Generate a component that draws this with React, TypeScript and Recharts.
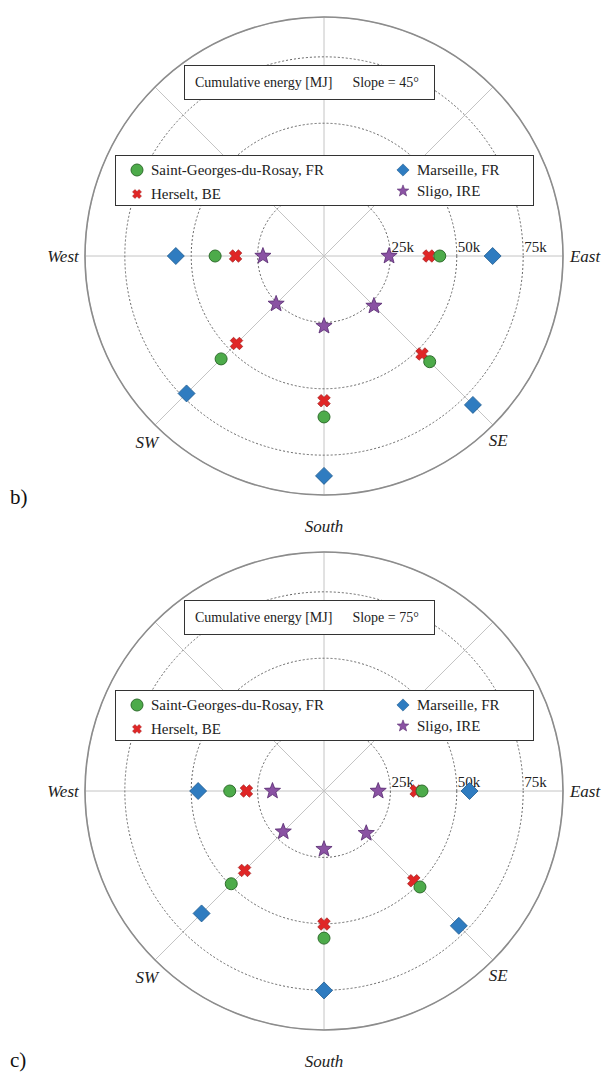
import { RadarChart, Radar, PolarGrid, PolarAngleAxis, PolarRadiusAxis } from 'recharts';

// compass sectors, clockwise from the top of the chart
const directions = ['North', 'NE', 'East', 'SE', 'South', 'SW', 'West', 'NW'];
const directionLabels = ['', '', 'East', 'SE', 'South', 'SW', 'West', ''];
const radiusTicks = [25000, 50000, 75000];
const radiusMax = 90000;

// cumulative energy [MJ] per orientation, slope = 45°
const stGeorges45 = [null, null, 43600, 56300, 60600, 54800, 41000, null];
const herselt45 = [null, null, 39500, 52200, 54500, 46600, 33300, null];
const marseille45 = [null, null, 63500, 79300, 82800, 73200, 55800, null];
const sligo45 = [null, null, 24500, 26600, 26400, 25500, 23000, null];

// cumulative energy [MJ] per orientation, slope = 75°
const stGeorges75 = [null, null, 36900, 51100, 55400, 49400, 35500, null];
const herselt75 = [null, null, 34700, 47800, 50100, 42300, 29200, null];
const marseille75 = [null, null, 54800, 71800, 75100, 65200, 47400, null];
const sligo75 = [null, null, 20400, 22500, 21900, 21700, 19400, null];

const SERIF = "'Liberation Serif', 'DejaVu Serif', serif";
const W = 604;
const CX = 324;
const CY = 256;
const R = 239;

const STYLE = {
  circle: { fill: '#4dab4a', stroke: '#2f6e2d' },
  x: { fill: '#e02626', stroke: '#9c1a1a' },
  diamond: { fill: '#2f7cc0', stroke: '#1e5a8e' },
  star: { fill: '#8a52a3', stroke: '#55286e' },
};

const series = [
  { key: 'marseille', name: 'Marseille, FR', shape: 'diamond' },
  { key: 'herselt', name: 'Herselt, BE', shape: 'x' },
  { key: 'stGeorges', name: 'Saint-Georges-du-Rosay, FR', shape: 'circle' },
  { key: 'sligo', name: 'Sligo, IRE', shape: 'star' },
];

function buildRows(sg: any[], he: any[], ma: any[], sl: any[]) {
  return directions.map((dir, i) => ({ dir, stGeorges: sg[i], herselt: he[i], marseille: ma[i], sligo: sl[i] }));
}

const starPoints = (() => {
  const pts: string[] = [];
  for (let i = 0; i < 10; i++) {
    const r = i % 2 === 0 ? 8.5 : 3.6;
    const a = -Math.PI / 2 + (i * Math.PI) / 5;
    pts.push(`${(r * Math.cos(a)).toFixed(2)},${(r * Math.sin(a)).toFixed(2)}`);
  }
  return pts.join(' ');
})();

const crossPath = (() => {
  const w = 2.4, s = 6.5;
  const p = [[-w, -s], [w, -s], [w, -w], [s, -w], [s, w], [w, w], [w, s], [-w, s], [-w, w], [-s, w], [-s, -w], [-w, -w]];
  return 'M' + p.map(([a, b]) => `${a},${b}`).join('L') + 'Z';
})();

function Marker({ shape, x, y, k = 1 }: { shape: string; x: number; y: number; k?: number }) {
  const st = (STYLE as any)[shape];
  const t = `translate(${x},${y}) scale(${k})`;
  if (shape === 'circle') return <circle cx={x} cy={y} r={6 * k} fill={st.fill} stroke={st.stroke} strokeWidth={1} />;
  if (shape === 'x')
    return <path d={crossPath} transform={`${t} rotate(45)`} fill={st.fill} stroke={st.stroke} strokeWidth={0.6} />;
  if (shape === 'diamond')
    return <path d="M0,-8.5L8.5,0L0,8.5L-8.5,0Z" transform={t} fill={st.fill} stroke={st.stroke} strokeWidth={0.8} />;
  return <polygon points={starPoints} transform={t} fill={st.fill} stroke={st.stroke} strokeWidth={0.8} />;
}

const makeDot = (shape: string) => (props: any) => {
  const { cx, cy, index } = props;
  const v = props.value ?? props.payload?.value;
  if (v == null || !Number.isFinite(cx) || !Number.isFinite(cy)) return <g key={`e-${index}`} />;
  return (
    <g key={`d-${shape}-${index}`}>
      <Marker shape={shape} x={cx} y={cy} />
    </g>
  );
};

// small nudges so the compass labels sit like in the figure
const labelNudge: Record<string, [number, number]> = {
  East: [2, 0],
  SE: [-9, 1],
  South: [0, 11],
  SW: [6, 3],
  West: [-2, 0],
};

const AngleTick = (props: any) => {
  const { x, y, payload } = props;
  const label = directionLabels[directions.indexOf(payload.value)];
  if (!label) return <g />;
  const [dx, dy] = labelNudge[label] || [0, 0];
  return (
    <text x={x + dx} y={y + dy} textAnchor="middle" dominantBaseline="central" fontFamily={SERIF} fontStyle="italic" fontSize={17} fill="#222">
      {label}
    </text>
  );
};

const RadiusTick = (props: any) => {
  const { x, y, payload } = props;
  return (
    <text x={x + 1} y={y - 9} textAnchor="start" dominantBaseline="central" fontFamily={SERIF} fontSize={15} fill="#222">
      {`${payload.value / 1000}k`}
    </text>
  );
};

function Legend() {
  const items = [
    { s: series[2], x: 21, y: 14 },
    { s: series[1], x: 21, y: 38 },
    { s: series[0], x: 287, y: 14 },
    { s: series[3], x: 287, y: 35 },
  ];
  return (
    <div
      style={{
        position: 'absolute', left: CX - 209, top: CY - 101, width: 419, height: 51, boxSizing: 'border-box',
        border: '1.5px solid #333', background: '#fff', fontFamily: SERIF, fontSize: 15, color: '#222',
      }}
    >
      {items.map(({ s, x, y }) => (
        <div key={s.key} style={{ position: 'absolute', left: x - 9, top: y - 10, height: 20, display: 'flex', alignItems: 'center', whiteSpace: 'nowrap' }}>
          <svg width={18} height={20} style={{ marginRight: 5 }}>
            <Marker shape={s.shape} x={9} y={10} k={s.shape === 'circle' ? 1 : 0.72} />
          </svg>
          <span>{s.name}</span>
        </div>
      ))}
    </div>
  );
}

function Panel({ rows, slope, tag, tagY, height }: { rows: any[]; slope: string; tag: string; tagY: number; height: number }) {
  return (
    <div style={{ position: 'relative', width: W, height }}>
      <RadarChart width={W} height={height} data={rows} cx={CX} cy={CY} outerRadius={R} innerRadius={0} margin={{ top: 0, right: 0, bottom: 0, left: 0 }}>
        <PolarGrid gridType="circle" polarRadius={[R]} stroke="#c4c4c4" strokeWidth={1} />
        <PolarGrid gridType="circle" radialLines={false} stroke="#666" strokeWidth={1} strokeDasharray="2 2" />
        <PolarGrid gridType="circle" radialLines={false} polarRadius={[R]} stroke="#8c8c8c" strokeWidth={1.6} />
        <PolarAngleAxis dataKey="dir" axisLine={false} tickLine={false} tickSize={20} tick={<AngleTick />} />
        <PolarRadiusAxis angle={0} type="number" domain={[0, radiusMax]} ticks={radiusTicks} axisLine={false} tickLine={false} tick={<RadiusTick />} />
        {series.map((s) => (
          <Radar
            key={s.key}
            name={s.name}
            dataKey={s.key}
            stroke="none"
            fill="none"
            fillOpacity={0}
            dot={makeDot(s.shape)}
            activeDot={false}
            isAnimationActive={false}
          />
        ))}
      </RadarChart>
      <div
        style={{
          position: 'absolute', left: CX - 140, top: CY - 191, width: 251, height: 35, boxSizing: 'border-box',
          border: '1.5px solid #333', background: '#fff', fontFamily: SERIF, fontSize: 14, color: '#222',
          display: 'flex', alignItems: 'center', paddingLeft: 10, whiteSpace: 'nowrap',
        }}
      >
        <span>Cumulative energy [MJ]</span>
        <span style={{ marginLeft: 20 }}>Slope = {slope}</span>
      </div>
      <Legend />
      <div style={{ position: 'absolute', left: 10, top: tagY - 12, fontFamily: SERIF, fontSize: 21, color: '#111', lineHeight: '24px' }}>{tag}</div>
    </div>
  );
}

export default function App() {
  return (
    <div style={{ width: W, background: '#fff' }}>
      <style>{'body{margin:0;background:#fff}'}</style>
      <Panel rows={buildRows(stGeorges45, herselt45, marseille45, sligo45)} slope="45°" tag="b)" tagY={497} height={535} />
      <Panel rows={buildRows(stGeorges75, herselt75, marseille75, sligo75)} slope="75°" tag="c)" tagY={525} height={541} />
    </div>
  );
}
